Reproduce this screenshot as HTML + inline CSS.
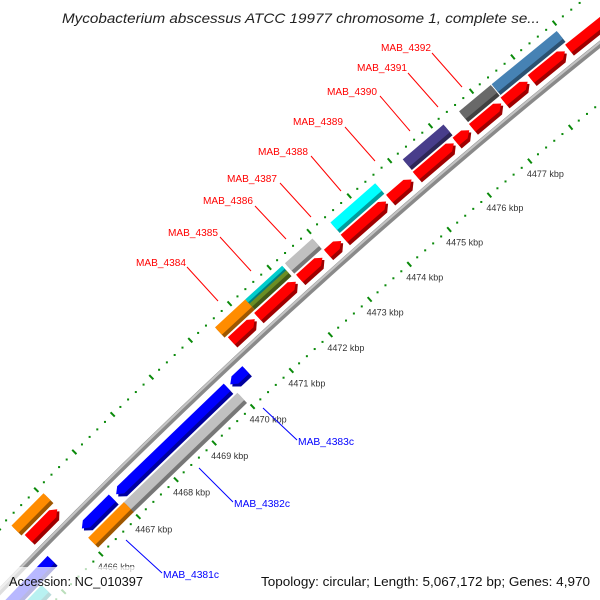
<!DOCTYPE html>
<html><head><meta charset="utf-8"><style>
html,body{margin:0;padding:0;background:#fff;width:600px;height:600px;overflow:hidden;}
svg{display:block;font-family:"Liberation Sans","DejaVu Sans",sans-serif;overflow:hidden;}
</style></head><body>
<svg id="map" width="600" height="600" viewBox="0 0 600 600" xmlns="http://www.w3.org/2000/svg">
<defs><clipPath id="frame"><rect x="0" y="0" width="600" height="600"/></clipPath></defs>
<rect x="0" y="0" width="600" height="600" fill="#fff"/>
<g clip-path="url(#frame)">
<g id="ticks"></g>
<g id="backbone"></g>
<g id="features"></g>
<g id="labels"></g>
</g>
<rect x="0" y="567" width="150" height="33" fill="#fff" fill-opacity="0.72"/>
<text x="62" y="23" font-size="14" font-style="italic" fill="#222" textLength="478" lengthAdjust="spacingAndGlyphs">Mycobacterium abscessus ATCC 19977 chromosome 1, complete se...</text>
<text x="9" y="586" font-size="13" fill="#111" textLength="134" lengthAdjust="spacingAndGlyphs">Accession: NC_010397</text>
<text x="261" y="586" font-size="13" fill="#111" textLength="329" lengthAdjust="spacingAndGlyphs">Topology: circular; Length: 5,067,172 bp; Genes: 4,970</text>
</svg>
<script>
// ---- data ----
const featStart = [4470.55,4471.22,4472.28,4472.98,4473.40,4474.53,4475.19,4476.17,4476.57,4477.34,4478.00,4478.90,4465.25,
  4470.50,4471.27,4471.27,4472.27,4473.41,4475.20,4476.58,4477.37,4465.20,
  4469.98,4467.00,4466.09,4462.00,
  4466.98,4466.05,4462.00];
const featEnd = [4471.15,4472.19,4472.86,4473.33,4474.45,4475.08,4476.12,4476.50,4477.28,4477.92,4478.82,4480.20,4466.02,
  4471.27,4472.20,4472.20,4472.96,4474.52,4476.20,4477.35,4478.94,4466.05,
  4470.38,4469.90,4466.90,4465.27,
  4469.97,4467.00,4464.80];
const featLane = ['f1','f1','f1','f1','f1','f1','f1','f1','f1','f1','f1','f1','f1',
  'f2','f2a','f2b','f2','f2','f2','f2','f2','f2',
  'r1','r1','r1','r1',
  'r2','r2','r2'];
const featColor = ['#ff0000','#ff0000','#ff0000','#ff0000','#ff0000','#ff0000','#ff0000','#ff0000','#ff0000','#ff0000','#ff0000','#ff0000','#ff0000',
  '#ff8c00','#00cccc','#6b8e23','#c0c0c0','#00ffff','#483d8b','#696969','#4682b4','#ff8c00',
  '#0000ff','#0000ff','#0000ff','#0000ff',
  '#c0c0c0','#ff8c00','#00cccc'];
const featArrow = [1,1,1,1,1,1,1,1,1,1,1,1,1, 0,0,0,0,0,0,0,0,0, -1,-1,-1,-1, 0,0,0];
const tickKbp = [4466,4467,4468,4469,4470,4471,4472,4473,4474,4475,4476,4477];
const tickLabels = ['4466 kbp','4467 kbp','4468 kbp','4469 kbp','4470 kbp','4471 kbp','4472 kbp','4473 kbp','4474 kbp','4475 kbp','4476 kbp','4477 kbp'];
const fwdNames = ['MAB_4384','MAB_4385','MAB_4386','MAB_4387','MAB_4388','MAB_4389','MAB_4390','MAB_4391','MAB_4392'];
const revNames = ['MAB_4383c','MAB_4382c','MAB_4381c'];

// ---- geometry ----
const NS='http://www.w3.org/2000/svg';
const CX=4577, CY=5010, PHI0=-133.21, DPHI=0.48, RB=6362;
const laneR={f1:RB+16,f2:RB+32,f2a:RB+35,f2b:RB+29,r1:RB-15,r2:RB-31};
const laneH={f1:12,f2:12,f2a:6,f2b:6,r1:12,r2:12};
function P(k,r){const a=(PHI0+(k-4470)*DPHI)*Math.PI/180;return [CX+r*Math.cos(a),CY+r*Math.sin(a)];}
function pts(a){return a.map(p=>p[0].toFixed(2)+','+p[1].toFixed(2)).join(' ');}
function darker(c){const n=parseInt(c.slice(1),16);const f=v=>Math.round(v*0.62);
  const r=f(n>>16),g=f((n>>8)&255),b=f(n&255);return 'rgb('+r+','+g+','+b+')';}
function shape(k1,k2,rc,h,dir){
  const r1=rc-h/2,r2=rc+h/2,hl=Math.min(0.12,(k2-k1)*0.5);
  if(dir>0) return [P(k1,r1),P(k2-hl,r1),P(k2,rc),P(k2-hl,r2),P(k1,r2)];
  if(dir<0) return [P(k2,r1),P(k1+hl,r1),P(k1,rc),P(k1+hl,r2),P(k2,r2)];
  return [P(k1,r1),P(k2,r1),P(k2,r2),P(k1,r2)];
}
function el(tag,attrs,parent){const e=document.createElementNS(NS,tag);for(const k in attrs)e.setAttribute(k,attrs[k]);parent.appendChild(e);return e;}

// ticks / dotted scale lines
const tg=document.getElementById('ticks');
[RB-46,RB+45].forEach((r,ri)=>{
  for(let i=0;i<=95;i++){
    const k=4462+i*0.2;
    const isMajor=Math.abs(k-Math.round(k))<1e-6;
    let e;
    if(isMajor){
      const a=P(k,r-3),b=P(k,r+3);
      e=el('line',{x1:a[0],y1:a[1],x2:b[0],y2:b[1],stroke:'#0a8a0a','stroke-width':2},tg);
      
    } else {
      const c=P(k,r);
      e=el('rect',{x:c[0]-1,y:c[1]-1,width:2,height:2,fill:'#0a8a0a'},tg);
      
    }
    
  }
});
tickKbp.forEach((k,i)=>{
  const c=P(k,RB-46);
  const t=el('text',{x:c[0]-3,y:c[1]+16,'font-size':9,fill:'#333'},tg);
  
  
  t.textContent=tickLabels[i];
});

// backbone
const bg=document.getElementById('backbone');
const bpts=[];for(let k=4460;k<=4483;k+=0.25)bpts.push(P(k,RB));
const bpOut=[];for(let k=4460;k<=4483;k+=0.25)bpOut.push(P(k,RB+1.5));
const bl1=el('polyline',{points:pts(bpts),fill:'none',stroke:'#8a8a8a','stroke-width':6},bg);


const bl2=el('polyline',{points:pts(bpOut),fill:'none',stroke:'#c4c4c4','stroke-width':2.2},bg);



// features
const fg=document.getElementById('features');
for(let i=0;i<featStart.length;i++){
  const rc=laneR[featLane[i]],h=laneH[featLane[i]];
  const g=el('g',{},fg);
  
  
  const sh=el('polygon',{points:pts(shape(featStart[i],featEnd[i],rc-2.5,h,featArrow[i])),fill:darker(featColor[i])},g);
  
  
  const bd=el('polygon',{points:pts(shape(featStart[i],featEnd[i],rc+0.5,h-2,featArrow[i])),fill:featColor[i]},g);
  
  
}

// labels (annotation placement)
const lg=document.getElementById('labels');
const fwdPos=[[136,262,187,267,218,301],[168,232,220,237,251,271],[203,200,255,206,286,239],[227,178,280,183,311,217],[258,151,311,156,341,191],[293,121,345,127,375,161],[327,91,380,96,410,131],[357,67,408,73,438,107],[381,47,432,53,462,87]];
fwdNames.forEach((n,i)=>{
  const p=fwdPos[i];
  const ln=el('line',{x1:p[2],y1:p[3],x2:p[4],y2:p[5],stroke:'#ff0000','stroke-width':1},lg);
  
  
  const t=el('text',{x:p[0],y:p[1]+4,'font-size':10.5,fill:'#ff0000',textLength:50,lengthAdjust:'spacingAndGlyphs'},lg);
  
  
  t.textContent=n;
});
const revPos=[[298,441,263,408,297,440],[234,503,199,468,233,502],[163,574,126,540,162,573]];
revNames.forEach((n,i)=>{
  const p=revPos[i];
  const ln=el('line',{x1:p[2],y1:p[3],x2:p[4],y2:p[5],stroke:'#0000ff','stroke-width':1},lg);
  
  
  const t=el('text',{x:p[0],y:p[1]+4,'font-size':10.5,fill:'#0000ff',textLength:56,lengthAdjust:'spacingAndGlyphs'},lg);
  
  
  t.textContent=n;
});
</script>
</body></html>
